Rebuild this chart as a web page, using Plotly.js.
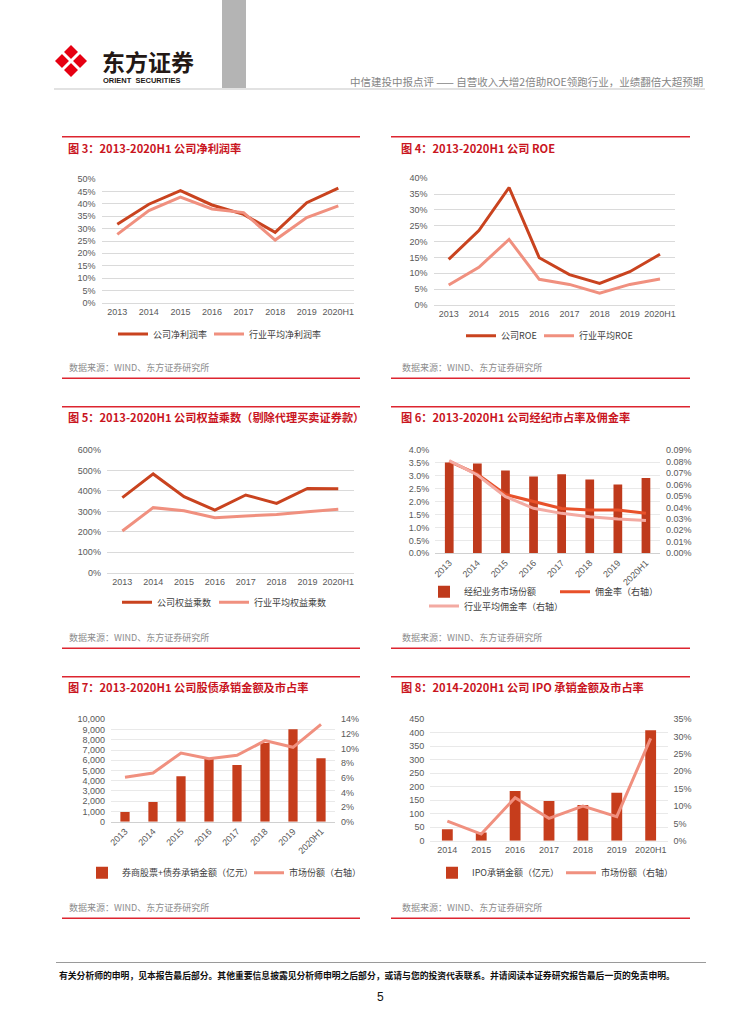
<!DOCTYPE html>
<html><head><meta charset="utf-8">
<script src="https://cdn.plot.ly/plotly-3.0.1.min.js"></script>
<style>html,body{margin:0;padding:0;background:#fff}#chart{width:755px;height:1024px}</style>
</head><body><div id="chart"></div>
<script>
// ---------------- data ----------------
const years8 = ['2013','2014','2015','2016','2017','2018','2019','2020H1'];
const years7 = ['2014','2015','2016','2017','2018','2019','2020H1'];
// 图3 净利润率 (%)
const netMarginCompany  = [31.8, 39.9, 45.4, 39.6, 35.8, 28.5, 40.5, 46.4];
const netMarginIndustry = [27.7, 37.3, 42.8, 38.0, 36.5, 25.4, 34.5, 39.2];
// 图4 ROE (%)
const roeCompany  = [14.4, 23.5, 37.1, 14.9, 9.6, 6.8, 10.5, 16.0];
const roeIndustry = [6.3, 11.9, 20.7, 8.1, 6.5, 3.7, 6.5, 8.2];
// 图5 权益乘数 (%)
const eqMultCompany  = [367, 483, 372, 306, 380, 339, 412, 411];
const eqMultIndustry = [204, 318, 303, 269, 277, 285, 298, 310];
// 图6 经纪市占率 (%) 与佣金率 (%)
const brokerShare  = [3.52, 3.48, 3.21, 2.97, 3.06, 2.86, 2.66, 2.92];
const commCompany  = [0.0800, 0.0690, 0.0512, 0.0452, 0.0390, 0.0377, 0.0377, 0.0348];
const commIndustry = [0.0807, 0.0682, 0.0494, 0.0392, 0.0348, 0.0319, 0.0299, 0.0285];
// 图7 股债承销金额(亿元) 与市场份额 (%)
const underwriting      = [945, 1920, 4430, 6120, 5540, 7680, 9020, 6190];
const underwritingShare = [6.07, 6.66, 9.39, 8.62, 9.07, 11.08, 10.17, 13.3];
// 图8 IPO承销金额(亿元) 与市场份额 (%)
const ipoAmount = [42, 30, 184, 147, 132, 178, 409];
const ipoShare  = [5.67, 1.92, 12.4, 6.44, 10.0, 6.92, 29.5];

// ---------------- helpers ----------------
const W = 755, H = 1024;
const fx = p => p / W, fy = p => 1 - p / H;
const FAM = '"Liberation Sans", Arial, "Noto Sans CJK SC", sans-serif';
const CJK = '"Noto Sans CJK SC", "Liberation Sans", sans-serif';
const C_DARK = '#C9431F', C_PINK = '#F0907F';
const C_BAR = '#C63D1C';
const tickFont = {family: FAM, size: 9, color: '#595959'};
const legFont = {family: CJK, size: 9, color: '#404040'};

function xAxis(x0, x1, anchor, n, angle, line) {
  return {domain: [fx(x0), fx(x1)], anchor: anchor, type: 'category', range: [-0.5, n - 0.5],
    tickfont: tickFont, tickangle: angle, showgrid: false, zeroline: false,
    showline: true, linecolor: line, linewidth: 1, ticks: '', fixedrange: true};
}
function yAxis(top, bottom, anchor, max, dtick, fmt, suffix, grid) {
  return {domain: [fy(bottom), fy(top)], anchor: anchor, range: [0, max], tickmode: 'linear', tick0: 0,
    dtick: dtick, tickformat: fmt, ticksuffix: suffix, showgrid: true, gridcolor: grid, gridwidth: 1,
    zeroline: false, showline: false, ticks: '', tickfont: tickFont, ticklabelstandoff: 5, fixedrange: true};
}
function yRight(over, anchor, max, dtick, fmt, suffix) {
  return {overlaying: over, side: 'right', anchor: anchor, range: [0, max], tickmode: 'linear', tick0: 0,
    dtick: dtick, tickformat: fmt, ticksuffix: suffix, showgrid: false, zeroline: false, showline: false,
    ticks: '', tickfont: tickFont, ticklabelstandoff: 5, fixedrange: true};
}
function legend(x, y) {
  return {orientation: 'h', x: fx(x), y: fy(y), xanchor: 'left', yanchor: 'middle', xref: 'paper', yref: 'paper',
    itemwidth: 30, font: legFont, bgcolor: 'rgba(0,0,0,0)', borderwidth: 0};
}
function line(x, y, name, color, xa, ya, lg, lw) {
  const t = {type: 'scatter', mode: 'lines', x: x, y: y, name: name, xaxis: xa, yaxis: ya, legend: lg,
    line: {color: color, width: 3}, hoverinfo: 'skip'};
  if (lw) t.legendwidth = lw;
  return t;
}
function bar(x, y, name, color, width, xa, ya, lg, lw) {
  const t = {type: 'bar', x: x, y: y, name: name, xaxis: xa, yaxis: ya, legend: lg, width: width,
    marker: {color: color, line: {width: 0}}, hoverinfo: 'skip'};
  if (lw) t.legendwidth = lw;
  return t;
}

// ---------------- traces ----------------
const data = [
  line(years8, netMarginCompany, '公司净利润率', C_DARK, 'x', 'y', 'legend', 51),
  line(years8, netMarginIndustry, '行业平均净利润率', C_PINK, 'x', 'y', 'legend'),
  line(years8, roeCompany, '公司ROE', C_DARK, 'x2', 'y2', 'legend2', 33),
  line(years8, roeIndustry, '行业平均ROE', C_PINK, 'x2', 'y2', 'legend2'),
  line(years8, eqMultCompany, '公司权益乘数', C_DARK, 'x3', 'y3', 'legend3', 52),
  line(years8, eqMultIndustry, '行业平均权益乘数', C_PINK, 'x3', 'y3', 'legend3'),
  bar(years8, brokerShare, '经纪业务市场份额', '#BF3A1C', 0.31, 'x4', 'y4', 'legend4', 86),
  line(years8, commCompany, '佣金率（右轴）', '#E8512A', 'x4', 'y7', 'legend4'),
  line(years8, commIndustry, '行业平均佣金率（右轴）', '#F3AAA2', 'x4', 'y7', 'legend5'),
  bar(years8, underwriting, '券商股票+债券承销金额（亿元）', C_BAR, 0.33, 'x5', 'y5', 'legend6', 122),
  line(years8, underwritingShare, '市场份额（右轴）', C_PINK, 'x5', 'y8', 'legend6'),
  bar(years7, ipoAmount, 'IPO承销金额（亿元）', C_BAR, 0.32, 'x6', 'y6', 'legend7', 84),
  line(years7, ipoShare, '市场份额（右轴）', C_PINK, 'x6', 'y9', 'legend7')
];

// ---------------- decorations ----------------
const RED = '#DD2530';
function hline(x0, x1, y, color, w) {
  return {type: 'line', xref: 'paper', yref: 'paper', x0: fx(x0), x1: fx(x1), y0: fy(y), y1: fy(y),
    line: {color: color, width: w}};
}
function pathOf(pts) {
  return 'M' + pts.map(p => fx(p[0]) + ',' + fy(p[1])).join('L') + 'Z';
}
const shapes = [
  {type: 'rect', xref: 'paper', yref: 'paper', x0: fx(222), x1: fx(246), y0: fy(0), y1: fy(89),
    fillcolor: '#B4B4B4', line: {width: 0}},
  hline(54, 705, 89, '#E2E2E2', 2),
  {type: 'path', xref: 'paper', yref: 'paper', path: pathOf([[71,45],[87,61],[71,77],[55,61]]),
    fillcolor: '#E60012', line: {width: 0}},
  {type: 'line', xref: 'paper', yref: 'paper', x0: fx(61), y0: fy(51), x1: fx(81), y1: fy(71), line: {color: '#fff', width: 3}},
  {type: 'line', xref: 'paper', yref: 'paper', x0: fx(81), y0: fy(51), x1: fx(61), y1: fy(71), line: {color: '#fff', width: 3}},
  hline(62, 360, 136.7, RED, 1.5), hline(391, 690, 136.7, RED, 1.5),
  hline(62, 360, 378.3, RED, 1.5), hline(391, 690, 378.3, RED, 1.5),
  hline(62, 360, 406.7, RED, 1.5), hline(391, 690, 406.7, RED, 1.5),
  hline(62, 360, 648.3, RED, 1.5), hline(391, 690, 648.3, RED, 1.5),
  hline(62, 360, 676.7, RED, 1.5), hline(391, 690, 676.7, RED, 1.5),
  hline(62, 360, 918.3, RED, 1.5), hline(391, 690, 918.3, RED, 1.5),
  hline(56, 706, 962.5, '#9A9A9A', 1)
];

function note(text, x, y, opt) {
  return Object.assign({text: text, xref: 'paper', yref: 'paper', x: fx(x), y: fy(y), xanchor: 'left',
    yanchor: 'middle', showarrow: false, font: {family: CJK, size: 9, color: '#8C8C8C'}}, opt || {});
}
const TITLE = {family: CJK, size: 11.2, color: '#C9151E'};
const SRC = '数据来源：WIND、东方证券研究所';
const annotations = [
  note('中信建投中报点评 —— 自营收入大增2倍助ROE领跑行业，业绩翻倍大超预期', 705, 81,
    {xanchor: 'right', font: {family: CJK, size: 10.5, color: '#858585'}}),
  note('<b>东方证券</b>', 100, 61, {font: {family: CJK, size: 23, color: '#231815'}}),
  note('<b>ORIENT  SECURITIES</b>', 101, 80.7, {font: {family: FAM, size: 7.5, color: '#231815'}}),
  note('<b>图 3：2013-2020H1 公司净利润率</b>', 66, 148, {font: TITLE}),
  note('<b>图 4：2013-2020H1 公司 ROE</b>', 399, 148, {font: TITLE}),
  note('<b>图 5：2013-2020H1 公司权益乘数（剔除代理买卖证券款）</b>', 66, 417.3, {font: TITLE}),
  note('<b>图 6：2013-2020H1 公司经纪市占率及佣金率</b>', 399, 417.3, {font: TITLE}),
  note('<b>图 7：2013-2020H1 公司股债承销金额及市占率</b>', 66, 687.3, {font: TITLE}),
  note('<b>图 8：2014-2020H1 公司 IPO 承销金额及市占率</b>', 399, 687.3, {font: TITLE}),
  note(SRC, 67, 367.3), note(SRC, 400, 367.7),
  note(SRC, 67, 637.7), note(SRC, 400, 637.7),
  note(SRC, 67, 907.7), note(SRC, 400, 907.7),
  note('<b>有关分析师的申明，见本报告最后部分。其他重要信息披露见分析师申明之后部分，或请与您的投资代表联系。并请阅读本证券研究报告最后一页的免责申明。</b>',
    57, 975, {font: {family: CJK, size: 8.8, color: '#111111'}}),
  note('5', 381, 996.5, {xanchor: 'center', font: {family: FAM, size: 12, color: '#111111'}})
];

const GRID = '#DADADA', GRID2 = '#E9E9E9';
const layout = {
  width: W, height: H, margin: {l: 0, r: 0, t: 0, b: 0, pad: 0},
  paper_bgcolor: '#fff', plot_bgcolor: 'rgba(0,0,0,0)', showlegend: true, barmode: 'overlay',
  font: {family: FAM},
  xaxis:  xAxis(101.5, 354.1, 'y', 8, 0, GRID),
  yaxis:  yAxis(179.3, 302.7, 'x', 50, 5, 'd', '%', GRID),
  xaxis2: xAxis(433.6, 675.1, 'y2', 8, 0, GRID),
  yaxis2: yAxis(178.3, 305, 'x2', 40, 5, 'd', '%', GRID),
  xaxis3: xAxis(106.9, 353.7, 'y3', 8, 0, GRID),
  yaxis3: yAxis(450, 572.7, 'x3', 600, 100, 'd', '%', GRID),
  xaxis4: xAxis(435.2, 660, 'y4', 8, -45, '#D0D0D0'),
  yaxis4: yAxis(450, 553.3, 'x4', 4, 0.5, '.1f', '%', GRID2),
  yaxis7: yRight('y4', 'x4', 0.09, 0.01, '.2f', '%'),
  xaxis5: xAxis(111, 335, 'y5', 8, -45, '#D0D0D0'),
  yaxis5: yAxis(719.3, 821.7, 'x5', 10000, 1000, ',d', '', GRID2),
  yaxis8: yRight('y5', 'x5', 14, 2, 'd', '%'),
  xaxis6: xAxis(430.4, 667.6, 'y6', 7, 0, GRID2),
  yaxis6: yAxis(719.3, 840.7, 'x6', 450, 50, 'd', '', GRID2),
  yaxis9: yRight('y6', 'x6', 35, 5, 'd', '%'),
  legend:  legend(113, 334),
  legend2: legend(461, 335.7),
  legend3: legend(117, 602.3),
  legend4: legend(424, 591.7),
  legend5: legend(424, 606),
  legend6: legend(82, 872.7),
  legend7: legend(432, 872.7),
  shapes: shapes,
  annotations: annotations
};

Plotly.newPlot('chart', data, layout, {displayModeBar: false, staticPlot: true});
</script></body></html>
